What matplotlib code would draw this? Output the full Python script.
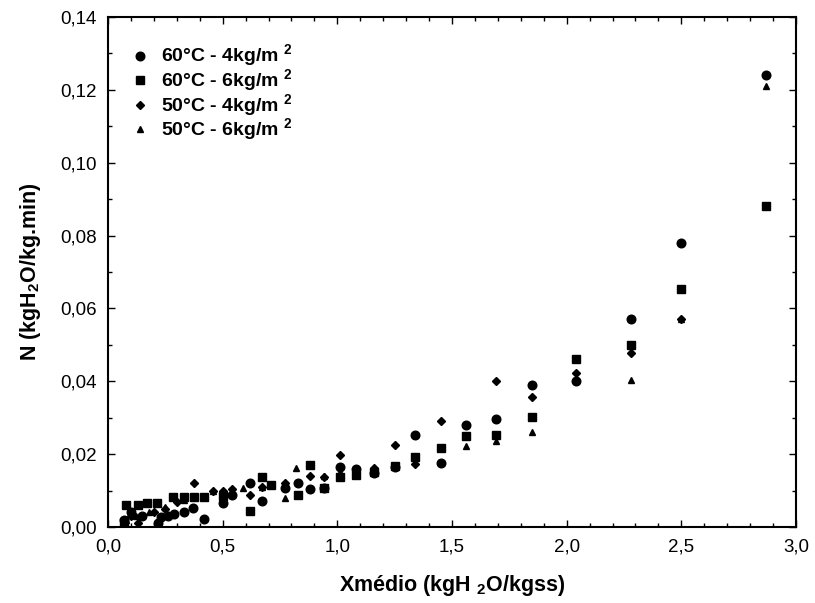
import matplotlib
matplotlib.use("Agg")
import matplotlib.pyplot as plt
from matplotlib.ticker import MultipleLocator, FuncFormatter

plt.rcParams['font.family'] = ['Liberation Sans', 'DejaVu Sans']
plt.rcParams['mathtext.fontset'] = 'custom'
plt.rcParams['mathtext.rm'] = 'Liberation Sans'
plt.rcParams['mathtext.bf'] = 'Liberation Sans:bold'

labels = ['60°C - 4kg/m $^\\mathbf{2}$', '60°C - 6kg/m $^\\mathbf{2}$',
          '50°C - 4kg/m $^\\mathbf{2}$', '50°C - 6kg/m $^\\mathbf{2}$']

x_60_4 = [2.87, 2.50, 2.28, 2.04, 1.85, 1.69, 1.56, 1.45, 1.34, 1.25, 1.16, 1.08, 1.01,
          0.94, 0.88, 0.83, 0.77, 0.67, 0.62, 0.54, 0.50, 0.42, 0.37, 0.33, 0.29, 0.26,
          0.23, 0.22, 0.15, 0.10, 0.07]
y_60_4 = [0.124, 0.078, 0.057, 0.040, 0.039, 0.0296, 0.028, 0.0175, 0.0253, 0.0165, 0.0147,
          0.0158, 0.0164, 0.0106, 0.0104, 0.0120, 0.0106, 0.0072, 0.0120, 0.0088, 0.0065,
          0.0021, 0.0051, 0.0042, 0.0036, 0.0030, 0.0028, 0.0012, 0.0030, 0.0040, 0.0020]

x_60_6 = [2.87, 2.50, 2.28, 2.04, 1.85, 1.69, 1.56, 1.45, 1.34, 1.25, 1.16, 1.08, 1.01,
          0.94, 0.88, 0.83, 0.71, 0.67, 0.62, 0.50, 0.42, 0.375, 0.33, 0.285, 0.215, 0.17,
          0.13, 0.08, 0.07]
y_60_6 = [0.088, 0.0654, 0.0501, 0.0461, 0.0301, 0.0253, 0.0250, 0.0216, 0.0191, 0.0168,
          0.0150, 0.0143, 0.0138, 0.0106, 0.0170, 0.0088, 0.0115, 0.0137, 0.0044, 0.0085,
          0.0082, 0.0082, 0.0082, 0.0082, 0.0067, 0.0067, 0.0060, 0.0060, 0.0015]

x_50_4 = [2.87, 2.50, 2.28, 2.04, 1.85, 1.69, 1.45, 1.34, 1.25, 1.16, 1.01, 0.94, 0.88,
          0.77, 0.67, 0.62, 0.54, 0.50, 0.46, 0.375, 0.30, 0.25, 0.20, 0.13, 0.10]
y_50_4 = [0.088, 0.057, 0.0477, 0.0424, 0.0356, 0.0400, 0.0291, 0.0173, 0.0225, 0.0161,
          0.0198, 0.0138, 0.0141, 0.0120, 0.0110, 0.0088, 0.0104, 0.0100, 0.0098, 0.0122,
          0.0070, 0.0050, 0.0040, 0.0010, 0.0030]

x_50_6 = [2.87, 2.50, 2.28, 1.85, 1.69, 1.56, 1.45, 1.16, 1.01, 0.94, 0.82, 0.77, 0.67,
          0.59, 0.50, 0.46, 0.42, 0.33, 0.25, 0.18, 0.12, 0.08]
y_50_6 = [0.121, 0.057, 0.0404, 0.0260, 0.0237, 0.0222, 0.0216, 0.0163, 0.0150, 0.0140,
          0.0161, 0.0079, 0.0111, 0.0106, 0.0100, 0.0100, 0.0085, 0.0075, 0.0055, 0.0040,
          0.0030, 0.0020]

fig = plt.figure(figsize=(8.15, 6.03), dpi=100)
ax = fig.add_axes([0.1325, 0.126, 0.8442, 0.8458])

ax.plot(x_60_4, y_60_4, 'o', color='black', ms=6.2, label=labels[0])
ax.plot(x_60_6, y_60_6, 's', color='black', ms=5.6, label=labels[1])
ax.plot(x_50_4, y_50_4, 'D', color='black', ms=4.5, label=labels[2])
ax.plot(x_50_6, y_50_6, '^', color='black', ms=5.0, label=labels[3])

ax.set_xlim(0, 3.0)
ax.set_ylim(0, 0.14)
ax.xaxis.set_major_locator(MultipleLocator(0.5))
ax.xaxis.set_minor_locator(MultipleLocator(0.1))
ax.yaxis.set_major_locator(MultipleLocator(0.02))
ax.yaxis.set_minor_locator(MultipleLocator(0.01))
ax.xaxis.set_major_formatter(FuncFormatter(lambda v, p: f"{v:.1f}".replace('.', ',')))
ax.yaxis.set_major_formatter(FuncFormatter(lambda v, p: f"{v:.2f}".replace('.', ',')))
ax.tick_params(which='both', direction='in', top=True, right=True, width=1.0,
               labelsize=13.5, colors='black')
ax.tick_params(which='major', length=5, pad=8)
ax.tick_params(which='minor', length=3)
for s in ax.spines.values():
    s.set_linewidth(1.5)

ax.set_xlabel('Xmédio (kgH $_\\mathbf{2}$O/kgss)', fontsize=15.5, fontweight='bold', labelpad=13)
ax.set_ylabel('N (kgH$_\\mathbf{2}$O/kg.min)', fontsize=15.5, fontweight='bold', labelpad=12.5)

leg = ax.legend(loc='upper left', bbox_to_anchor=(0.021, 0.965), frameon=False,
                prop={'weight': 'bold', 'size': 14}, handletextpad=0.6,
                labelspacing=-0.1, borderaxespad=0.0, handlelength=1.0)

fig.savefig('out.png', dpi=100)
